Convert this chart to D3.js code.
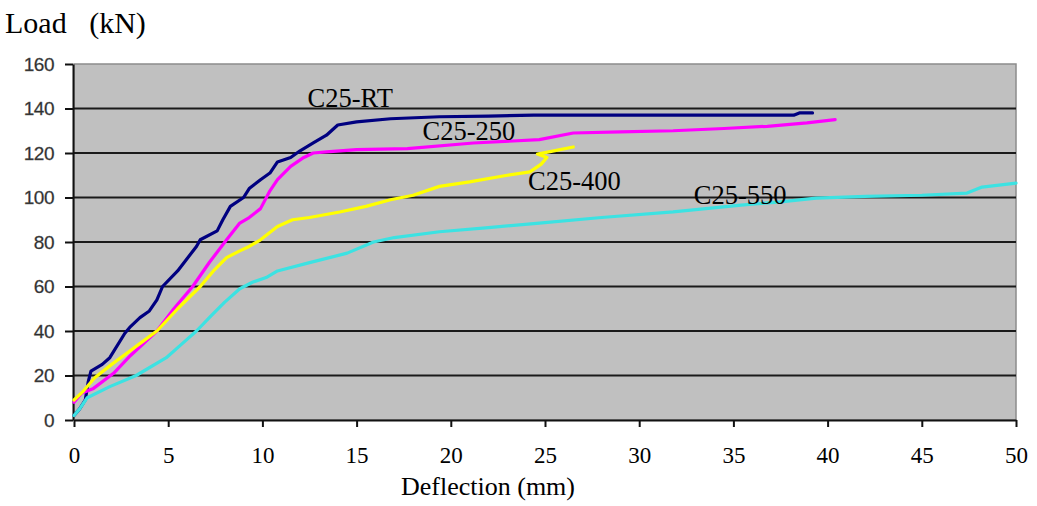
<!DOCTYPE html>
<html>
<head>
<meta charset="utf-8">
<script src="https://cdn.jsdelivr.net/npm/d3@7/dist/d3.min.js"></script>
<style>
  html, body { margin: 0; padding: 0; background: #ffffff; }
  svg { display: block; }
</style>
</head>
<body>
<svg id="chart" width="1037" height="506"></svg>
<script>
// Load–deflection curves of the four C25 specimens
const seriesNames = ["C25-RT", "C25-250", "C25-400", "C25-550"];
const seriesColors = ["#000080", "#ff00ff", "#ffff00", "#3ce2e2"];

const rtDefl = [0, 0.3, 0.6, 0.75, 0.9, 1.5, 1.9, 2.7, 3.0, 3.5, 4.0, 4.4, 4.7, 5.5, 6.5, 6.7, 7.6, 7.9, 8.3, 9.0, 9.3, 9.9, 10.4, 10.8, 11.5, 12.0, 12.7, 13.4, 14.0, 15.0, 16.8, 19.4, 22.0, 24.4, 30.0, 35.0, 38.2, 38.5, 39.2];
const rtLoad = [2, 5, 9, 17, 22, 25, 28, 39, 42, 46, 49, 54, 60, 67, 78, 81, 85, 90, 96, 100, 104, 108, 111, 116, 118, 121, 124.5, 128, 132.6, 134, 135.4, 136.3, 136.6, 137, 137, 137, 137, 138, 138];

const c250Defl = [0, 0.4, 1.0, 2.1, 3.0, 4.4, 5.3, 6.3, 7.2, 8.1, 8.8, 9.3, 9.9, 10.4, 10.8, 11.5, 12.2, 12.7, 13.4, 15.0, 17.7, 21.2, 24.7, 26.5, 29.0, 31.8, 34.5, 36.8, 38.9, 40.4];
const c250Load = [8, 12, 14, 21, 29, 40, 50, 60, 71, 81, 88.5, 91, 95, 103, 108, 114, 118, 120, 120.5, 121.5, 122, 124.5, 126, 129, 129.5, 130, 131, 132, 133.5, 135];

const c400Defl = [0, 0.5, 1.1, 2.0, 2.8, 3.6, 4.4, 5.5, 6.7, 7.4, 8.1, 8.8, 9.3, 9.9, 10.8, 11.6, 12.5, 14.1, 15.5, 16.8, 18.0, 19.4, 21.0, 23.0, 24.2, 24.8, 25.1, 24.6, 25.2, 26.5];
const c400Load = [9, 13, 19, 25, 30, 35, 40, 50, 60, 67, 73, 76, 78, 81, 87, 90, 91, 93.5, 96, 99, 101, 105, 107, 110, 111.5, 115, 118, 119.5, 120.5, 122.7];

const c550Defl = [0, 0.3, 0.7, 1.9, 3.3, 4.9, 5.7, 6.5, 7.3, 8.0, 8.8, 9.5, 10.2, 10.8, 12.4, 14.5, 15.9, 17.0, 19.4, 22.0, 24.7, 28.0, 31.8, 35.4, 37.5, 39.4, 42.0, 45.0, 47.4, 48.2, 50.0];
const c550Load = [2, 5, 10, 15, 20, 28, 34, 40, 47, 53, 59, 62, 64, 67, 70.5, 75, 80, 82, 84.6, 86.5, 88.5, 91, 93.5, 96.6, 98, 99.7, 100.5, 101, 102, 104.7, 106.5];

const xTicks = [0, 5, 10, 15, 20, 25, 30, 35, 40, 45, 50];
const yTicks = [0, 20, 40, 60, 80, 100, 120, 140, 160];

// Curve labels: text plus the (deflection, load) point where the label sits
const labelText = ["C25-RT", "C25-250", "C25-400", "C25-550"];
const labelDefl = [12.4, 18.5, 24.1, 32.9];
const labelLoad = [140.5, 126, 103.5, 97];

const xTitle = "Deflection (mm)";
const yTitle = "Load   (kN)";

const curves = [
  { x: rtDefl, y: rtLoad },
  { x: c250Defl, y: c250Load },
  { x: c400Defl, y: c400Load },
  { x: c550Defl, y: c550Load }
];

const svg = d3.select("#chart");
const W = 1037, H = 506;
const plot = { left: 74, right: 1016, top: 64, bottom: 420 };

const x = d3.scaleLinear().domain([0, 50]).range([plot.left, plot.right]);
const y = d3.scaleLinear().domain([0, 160]).range([plot.bottom, plot.top]);

svg.append("rect").attr("width", W).attr("height", H).attr("fill", "#ffffff");

// plot background
svg.append("rect")
  .attr("x", plot.left).attr("y", plot.top)
  .attr("width", plot.right - plot.left).attr("height", plot.bottom - plot.top)
  .attr("fill", "#c0c0c0")
  .attr("stroke", "#8c8c8c").attr("stroke-width", 1.5);

// horizontal gridlines
svg.append("g")
  .selectAll("line")
  .data(yTicks.filter(v => v > 0 && v < 160))
  .join("line")
  .attr("x1", plot.left).attr("x2", plot.right)
  .attr("y1", d => y(d)).attr("y2", d => y(d))
  .attr("stroke", "#1a1a1a").attr("stroke-width", 2);

// y axis
const yAxis = svg.append("g")
  .attr("transform", `translate(${plot.left - 1},0)`)
  .call(d3.axisLeft(y).tickValues(yTicks).tickSize(8).tickPadding(11).tickSizeOuter(0));
yAxis.select(".domain").attr("stroke", "#111").attr("stroke-width", 2);
yAxis.selectAll(".tick line").attr("stroke", "#111").attr("stroke-width", 2);
yAxis.selectAll(".tick text")
  .attr("font-family", "'Liberation Sans', Arial, sans-serif")
  .attr("font-size", 19)
  .attr("fill", "#2e2e2e")
  .attr("stroke", "#555").attr("stroke-width", 0.3)
  .attr("letter-spacing", -0.5);

// x axis
const xAxis = svg.append("g")
  .attr("transform", `translate(0,${plot.bottom})`)
  .call(d3.axisBottom(x).tickValues(xTicks).tickSize(7).tickPadding(20).tickSizeOuter(0));
xAxis.select(".domain").attr("stroke", "#111").attr("stroke-width", 2);
xAxis.selectAll(".tick line").attr("stroke", "#111").attr("stroke-width", 2);
xAxis.selectAll(".tick text")
  .attr("font-family", "'Liberation Serif', 'Times New Roman', serif")
  .attr("font-size", 23)
  .attr("fill", "#000");

// curves
const line = d3.line().x(d => x(d[0])).y(d => y(d[1])).curve(d3.curveLinear);
svg.append("g")
  .selectAll("path")
  .data(curves)
  .join("path")
  .attr("d", c => line(c.x.map((v, i) => [v, c.y[i]])))
  .attr("fill", "none")
  .attr("stroke", (c, i) => seriesColors[i])
  .attr("stroke-width", 3.2)
  .attr("stroke-linejoin", "round")
  .attr("stroke-linecap", "round");

// curve labels
svg.append("g")
  .selectAll("text")
  .data(labelText)
  .join("text")
  .attr("x", (d, i) => x(labelDefl[i]))
  .attr("y", (d, i) => y(labelLoad[i]))
  .attr("font-family", "'Liberation Serif', 'Times New Roman', serif")
  .attr("font-size", 26.5)
  .attr("fill", "#000")
  .text(d => d);

// axis titles
svg.append("text")
  .attr("x", 488).attr("y", 495)
  .attr("text-anchor", "middle")
  .attr("font-family", "'Liberation Serif', 'Times New Roman', serif")
  .attr("font-size", 26)
  .attr("fill", "#000")
  .text(xTitle);

svg.append("text")
  .attr("x", 5).attr("y", 33)
  .attr("font-family", "'Liberation Serif', 'Times New Roman', serif")
  .attr("font-size", 30)
  .attr("fill", "#000")
  .style("white-space", "pre")
  .text(yTitle);
</script>
</body>
</html>
